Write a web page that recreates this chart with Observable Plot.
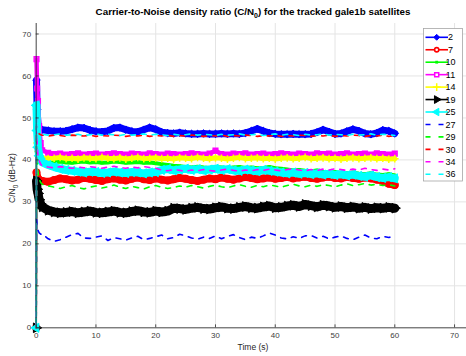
<!DOCTYPE html>
<html><head><meta charset="utf-8">
<script src="https://cdn.jsdelivr.net/npm/d3@7"></script>
<script src="https://cdn.jsdelivr.net/npm/@observablehq/plot@0.6"></script>
<style>html,body{margin:0;padding:0;background:#fff;} #chart{width:466px;height:356px;}</style>
</head><body><div id="chart"></div>
<script>
const titleText = ["Carrier-to-Noise density ratio (C/N", "0", ") for the tracked gale1b satellites"];
const yLabelText = ["C/N", "0", " (dB-Hz)"];
const xLabelText = "Time (s)";
const xTicks = [0, 10, 20, 30, 40, 50, 60, 70];
const yTicks = [0, 10, 20, 30, 40, 50, 60, 70];
const seriesNames = ["2", "7", "10", "11", "14", "19", "25", "27", "29", "30", "34", "36"];

const T = [0, 0.05, 0.15, 0.3, 0.5, 0.75,
 1,2,3,4,5,6,7,8,9,10, 11,12,13,14,15,16,17,18,19,20,
 21,22,23,24,25,26,27,28,29,30, 31,32,33,34,35,36,37,38,39,40,
 41,42,43,44,45,46,47,48,49,50, 51,52,53,54,55,56,57,58,59,60];

const s2 = [0, 59, 52, 48.5, 47.6, 47.3,
 47.2, 47.0, 46.8, 46.8, 46.9, 47.3, 47.7, 47.6, 47.1, 46.8,
 46.7, 46.9, 47.6, 47.7, 47.2, 46.8, 46.7, 47.2, 47.7, 47.3,
 46.6, 46.4, 46.3, 46.5, 46.3, 46.2, 46.2, 46.3, 46.2, 46.2,
 46.3, 46.2, 46.3, 46.2, 46.4, 46.9, 47.4, 46.9, 46.4, 46.2,
 46.1, 46.1, 46.2, 46.1, 46.1, 46.2, 46.6, 47.2, 46.7, 46.2,
 46.3, 46.8, 47.3, 46.9, 46.3, 46.1, 46.4, 47.1, 46.9, 46.3];
const s7 = [0, 37, 36, 35.6, 35.2, 35.0,
 35.0, 34.8, 35.2, 35.6, 35.4, 35.1, 35.3, 35.7, 35.5, 35.2,
 35.0, 35.4, 35.6, 35.3, 35.1, 35.5, 35.8, 35.4, 35.2, 35.6,
 35.3, 35.1, 35.4, 35.7, 35.5, 35.2, 35.0, 35.3, 35.6, 35.4,
 35.8, 35.5, 35.3, 35.6, 35.9, 35.7, 35.4, 35.6, 35.8, 35.5,
 35.7, 35.9, 35.6, 35.8, 36.0, 35.7, 35.5, 35.8, 36.0, 35.7,
 35.6, 35.9, 35.7, 35.5, 35.8, 35.6, 35.3, 35.0, 34.3, 34.0];
const s10 = [0, 52, 45, 41, 40, 39.6,
 39.5, 39.3, 39.5, 39.6, 39.4, 39.3, 39.5, 39.6, 39.4, 39.5,
 39.3, 39.4, 39.6, 39.5, 39.3, 39.4, 39.5, 39.3, 39.4, 39.2,
 39.0, 38.8, 38.6, 38.5, 38.3, 38.2, 38.4, 38.2, 38.1, 38.3,
 38.2, 38.0, 38.2, 38.3, 38.1, 38.2, 38.0, 38.1, 38.3, 38.0,
 37.9, 37.7, 37.5, 37.6, 37.4, 37.3, 37.5, 37.2, 37.0, 37.1,
 36.9, 36.8, 37.0, 36.7, 36.6, 36.8, 36.5, 36.4, 36.6, 36.3];
const s11 = [0, 64, 57, 54, 48, 44,
 42.3, 41.7, 41.4, 41.5, 41.3, 41.4, 41.6, 41.3, 41.4, 41.5,
 41.3, 41.4, 41.6, 41.4, 41.3, 41.5, 41.4, 41.3, 41.6, 41.4,
 41.3, 41.5, 41.4, 41.3, 41.4, 41.6, 41.4, 41.3, 41.5, 42.2,
 41.4, 41.3, 41.5, 41.4, 41.6, 41.3, 41.4, 41.5, 41.3, 41.4,
 41.6, 41.4, 41.3, 41.5, 41.4, 41.3, 41.6, 41.4, 41.5, 41.3,
 41.4, 41.6, 41.3, 41.4, 41.5, 41.3, 41.6, 41.4, 41.3, 41.5];
const s14 = [0, 50, 44, 42, 41, 40.6,
 40.5, 40.3, 40.4, 40.6, 40.3, 40.4, 40.2, 40.5, 40.4, 40.3,
 40.6, 40.4, 40.3, 40.5, 40.2, 40.4, 40.6, 40.3, 40.4, 40.5,
 40.3, 40.4, 40.2, 40.5, 40.4, 40.3, 40.6, 40.4, 40.3, 40.5,
 40.4, 40.2, 40.4, 40.6, 40.3, 40.4, 40.5, 40.3, 40.4, 40.2,
 40.4, 40.5, 40.3, 40.4, 40.6, 40.3, 40.4, 40.5, 40.3, 40.4,
 40.2, 40.4, 40.5, 40.3, 40.4, 40.5, 40.3, 40.4, 40.2, 40.3];
const s19 = [0, 35, 33, 32, 30.5, 29.5,
 28.8, 28.0, 27.6, 27.4, 27.5, 27.7, 27.4, 27.6, 27.8, 27.5,
 27.4, 27.6, 27.8, 27.5, 27.4, 27.7, 27.9, 27.6, 27.5, 27.8,
 27.6, 27.8, 28.5, 28.4, 28.2, 28.5, 28.7, 28.4, 28.3, 28.6,
 28.8, 28.5, 28.4, 28.7, 28.9, 28.6, 28.5, 28.8, 29.0, 28.6,
 28.7, 29.0, 29.2, 28.9, 29.4, 29.1, 28.8, 29.2, 29.0, 28.7,
 28.9, 28.6, 28.8, 28.5, 28.7, 28.4, 28.6, 28.5, 28.7, 28.5];
const s25 = [0, 53, 47, 43, 41, 40,
 39.4, 38.8, 38.3, 37.9, 37.6, 37.4, 37.2, 37.0, 37.2, 37.1,
 36.9, 37.0, 37.2, 37.0, 36.9, 37.1, 37.0, 36.8, 37.0, 37.1,
 37.6, 37.8, 37.5, 37.7, 37.9, 37.6, 37.8, 37.5, 37.7, 37.9,
 37.6, 37.8, 37.5, 37.4, 37.7, 37.5, 37.3, 37.6, 37.4, 37.2,
 37.0, 36.8, 37.0, 36.7, 36.9, 36.6, 36.8, 36.5, 36.7, 36.4,
 36.6, 36.3, 36.5, 36.2, 36.0, 36.3, 35.9, 35.7, 35.9, 35.6];
const s27 = [0, 26, 24.5, 23.2, 22.6, 22.3,
 22.4, 21.2, 20.6, 21.0, 21.6, 22.2, 22.5, 21.4, 21.3, 21.6,
 21.9, 20.8, 21.5, 21.2, 20.9, 21.4, 21.8, 21.0, 21.3, 21.7,
 22.1, 21.2, 21.5, 22.3, 21.9, 21.4, 21.1, 21.6, 21.3, 21.9,
 21.2, 21.8, 22.2, 21.5, 21.0, 21.6, 21.3, 21.9, 22.6, 22.1,
 21.4, 21.2, 21.7, 21.3, 21.9, 22.0, 21.4, 21.8, 21.2, 21.6,
 21.9, 21.3, 21.0, 21.6, 22.1, 21.4, 21.2, 21.8, 21.5, 22.0];
const s29 = [0, 45, 40, 37, 35.5, 34.6,
 34.2, 33.8, 33.5, 33.2, 33.6, 33.9, 33.4, 33.1, 33.5, 33.8,
 33.3, 33.6, 34.0, 33.5, 33.2, 33.7, 33.4, 33.1, 33.6, 33.9,
 33.5, 33.2, 33.4, 33.8, 33.5, 33.9, 33.6, 33.3, 33.7, 34.0,
 33.6, 33.4, 33.8, 34.1, 33.7, 33.5, 33.9, 33.6, 34.0, 33.8,
 33.5, 33.9, 34.2, 33.8, 33.6, 34.0, 33.7, 34.1, 33.9, 33.6,
 34.0, 34.3, 33.9, 34.1, 34.4, 34.0, 34.2, 33.9, 34.1, 33.8];
const s30 = [0, 48, 47, 46.5, 46.2, 46.0,
 45.9, 45.7, 45.9, 45.8, 45.6, 45.9, 45.8, 45.7, 45.9, 45.6,
 45.8, 45.7, 45.9, 45.8, 45.6, 45.8, 45.7, 45.9, 45.6, 45.8,
 45.7, 45.9, 45.6, 45.8, 45.7, 45.9, 45.8, 45.6, 45.8, 45.7,
 45.9, 45.6, 45.8, 45.7, 45.9, 45.8, 45.6, 45.8, 45.7, 45.9,
 45.6, 45.8, 45.7, 45.9, 45.8, 45.6, 45.8, 45.7, 45.9, 45.6,
 45.8, 45.7, 45.9, 45.8, 45.6, 45.8, 45.7, 45.9, 45.6, 45.8];
const s34 = [0, 50, 44, 41, 39.8, 39.0,
 38.6, 38.3, 38.1, 38.4, 38.2, 38.0, 38.3, 38.1, 38.4, 38.2,
 38.0, 38.3, 38.5, 38.2, 38.0, 38.3, 38.1, 38.4, 38.2, 38.0,
 37.6, 37.4, 37.7, 37.5, 37.3, 37.6, 37.4, 37.7, 37.5, 37.3,
 37.6, 37.8, 37.5, 37.3, 37.6, 37.4, 37.7, 37.5, 37.8, 37.6,
 37.4, 37.7, 37.9, 37.6, 37.4, 37.7, 37.5, 37.8, 37.6, 37.9,
 37.7, 37.5, 37.8, 37.6, 38.0, 37.7, 37.5, 37.8, 37.6, 37.9];
const s36 = [0, 50, 47, 46.5, 46.2, 46.0,
 46.1, 45.9, 46.0, 46.2, 45.9, 46.0, 46.1, 45.8, 46.0, 46.2,
 45.9, 46.1, 46.0, 45.8, 46.1, 45.9, 46.0, 46.2, 45.9, 46.1,
 46.0, 45.8, 46.1, 45.9, 46.0, 46.2, 45.9, 46.1, 46.0, 45.8,
 46.1, 45.9, 46.0, 46.2, 45.9, 46.0, 46.1, 45.8, 46.0, 46.2,
 45.9, 46.1, 46.0, 45.8, 46.1, 45.9, 46.0, 46.2, 45.9, 46.1,
 46.0, 45.8, 46.1, 45.9, 46.0, 46.2, 45.9, 46.1, 46.0, 45.8];

const seriesValues = [s2, s7, s10, s11, s14, s19, s25, s27, s29, s30, s34, s36];

// styles (marker r for plot; ls = legend symbol area)
const styles = [
  {color: "#0000ff", symbol: "diamond2", r: 3.4, fill: "#0000ff", sw: 1, line: 7, ls: 22},
  {color: "#ff0000", symbol: "circle", r: 3.2, fill: "#ff0000", sw: 1.6, line: 7.5, ls: 14, lfill: "none"},
  {color: "#00ff00", symbol: "square", r: 1.8, fill: "#00ff00", sw: 0, line: 4, ls: 8},
  {color: "#ff00ff", symbol: "square", r: 2.6, fill: "none", sw: 1.5, line: 4.5, ls: 16, lfill: "none"},
  {color: "#ffff00", symbol: "plus", r: 2.6, fill: "none", sw: 1.5, line: 5, ls: 22},
  {color: "#000000", symbol: "triangle", r: 3.6, fill: "#000000", sw: 1, line: 9, rotate: 90, ls: 26},
  {color: "#00ffff", symbol: "triangle", r: 3.4, fill: "#00ffff", sw: 1, line: 8, rotate: -90, ls: 24},
  {color: "#0000ff", dash: true},
  {color: "#00ff00", dash: true},
  {color: "#ff0000", dash: true},
  {color: "#ff00ff", dash: true},
  {color: "#00ffff", dash: true}
];

const tables = seriesValues.map((vals, k) => T.map((t, i) => ({t, v: vals[i], s: seriesNames[k]})));

const FONT = "'Liberation Sans', Arial, Helvetica, sans-serif";
const marks = [
  Plot.gridX(xTicks, {stroke: "#e4e4e4", strokeOpacity: 1}),
  Plot.gridY(yTicks, {stroke: "#e4e4e4", strokeOpacity: 1}),
];
tables.forEach((data, k) => {
  const st = styles[k];
  if (st.dash) {
    marks.push(Plot.line(data, {x: "t", y: "v", stroke: st.color, strokeWidth: 1.6, strokeDasharray: "5,6"}));
  } else {
    // initial rise from zero drawn thin, settled part drawn as a dense band
    marks.push(Plot.line(data.slice(0, 2), {x: "t", y: "v", stroke: st.color, strokeWidth: 1.6}));
    marks.push(Plot.line(data.slice(1), {x: "t", y: "v", stroke: st.color, strokeWidth: st.line, strokeLinejoin: "round"}));
    const opts = {x: "t", y: "v", symbol: st.symbol, r: st.r, stroke: st.color, fill: st.fill, strokeWidth: st.sw};
    if (st.rotate) opts.rotate = st.rotate;
    if (st.sw === 0) opts.stroke = null;
    marks.push(Plot.dot(data, opts));
  }
});
marks.push(
  Plot.ruleY([0], {stroke: "#262626", strokeWidth: 0.8}),
  Plot.ruleX([0], {stroke: "#262626", strokeWidth: 0.8}),
  Plot.ruleX(xTicks, {y1: 0, y2: 0.7, stroke: "#262626", strokeWidth: 0.8}),
  Plot.ruleY(yTicks, {x1: 0, x2: 0.5, stroke: "#262626", strokeWidth: 0.8}),
  Plot.axisX(xTicks, {tickSize: 0, tickPadding: 5, label: null, fill: "#404040", fontSize: 8}),
  Plot.axisY(yTicks, {tickSize: 0, tickPadding: 5, label: null, fill: "#404040", fontSize: 8})
);

const chart = Plot.plot({
  width: 466, height: 356,
  marginLeft: 35.7, marginRight: 0, marginTop: 23, marginBottom: 28.7,
  x: {domain: [0, 72]},
  y: {domain: [0, 72.5]},
  style: {fontFamily: FONT, background: "#fff", overflow: "visible"},
  marks
});
document.getElementById("chart").appendChild(chart);

const svg = d3.select(chart);
// title
const tt = svg.append("text").attr("x", 253).attr("y", 15).attr("text-anchor", "middle")
  .attr("font-family", FONT).attr("font-weight", "bold").attr("font-size", 9.8).attr("fill", "#000");
tt.append("tspan").text(titleText[0]);
tt.append("tspan").attr("dy", 2.5).attr("font-size", 7).text(titleText[1]);
tt.append("tspan").attr("dy", -2.5).text(titleText[2]);
// y label
const yl = svg.append("text").attr("transform", "translate(15,178) rotate(-90)").attr("text-anchor", "middle")
  .attr("font-family", FONT).attr("font-size", 8.5).attr("fill", "#262626");
yl.append("tspan").text(yLabelText[0]);
yl.append("tspan").attr("dy", 2.5).attr("font-size", 6.5).text(yLabelText[1]);
yl.append("tspan").attr("dy", -2.5).text(yLabelText[2]);
// x label
svg.append("text").attr("x", 253).attr("y", 350).attr("text-anchor", "middle")
  .attr("font-family", FONT).attr("font-size", 8.5).attr("fill", "#262626").text(xLabelText);

// legend
const lg = svg.append("g");
lg.append("rect").attr("x", 423.5).attr("y", 28.5).attr("width", 39).attr("height", 152.5)
  .attr("fill", "#fff").attr("stroke", "#a6a6a6").attr("stroke-width", 0.8);
const symMap = {diamond2: d3.symbolDiamond2, circle: d3.symbolCircle, square: d3.symbolSquare, plus: d3.symbolPlus, triangle: d3.symbolTriangle};
seriesNames.forEach((name, i) => {
  const st = styles[i];
  const cy = 37.3 + i * 12.45;
  lg.append("line").attr("x1", 425.5).attr("x2", 448).attr("y1", cy).attr("y2", cy)
    .attr("stroke", st.color).attr("stroke-width", 1.6)
    .attr("stroke-dasharray", st.dash ? "5,8" : null);
  if (!st.dash) {
    const path = d3.symbol(symMap[st.symbol], st.ls)();
    const fill = st.lfill || st.fill;
    lg.append("path").attr("d", path)
      .attr("transform", `translate(436.7,${cy}) rotate(${st.rotate || 0})`)
      .attr("fill", fill === "none" ? "#fff" : fill)
      .attr("stroke", st.sw === 0 ? "none" : st.color).attr("stroke-width", st.sw);
  }
  lg.append("text").attr("x", 450.5).attr("y", cy).attr("dy", "0.35em")
    .attr("font-family", FONT).attr("font-size", 9).attr("fill", "#000").text(name);
});
</script></body></html>
